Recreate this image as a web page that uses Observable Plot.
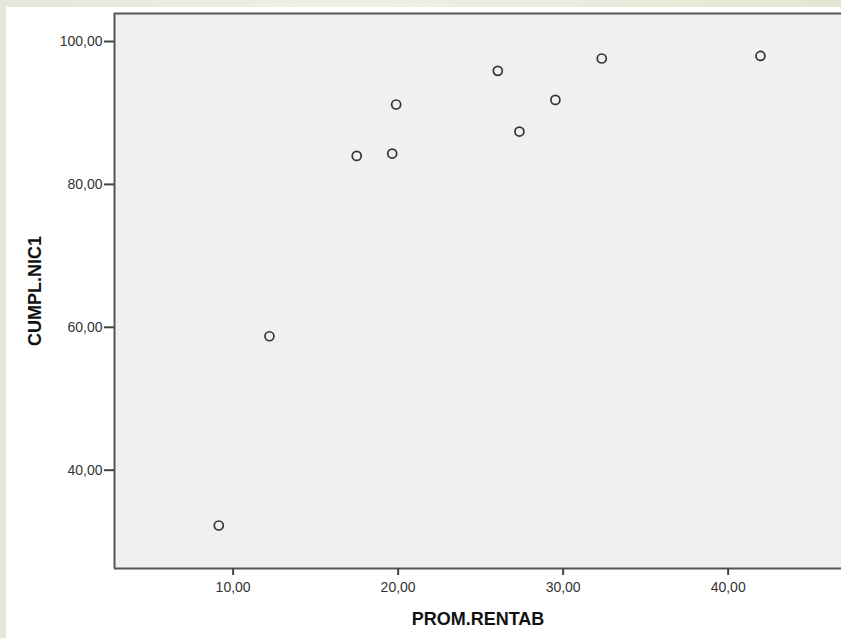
<!DOCTYPE html>
<html>
<head>
<meta charset="utf-8">
<script src="https://cdn.jsdelivr.net/npm/d3@7"></script>
<script src="https://cdn.jsdelivr.net/npm/@observablehq/plot@0.6"></script>
<style>
  html, body { margin: 0; padding: 0; }
  body {
    width: 841px; height: 638px; overflow: hidden; position: relative;
    background: linear-gradient(90deg, #e3e7da 0%, #eef0e2 40%, #e9ecdc 70%, #e4e6d4 100%);
  }
  #panel { position: absolute; left: 6px; top: 7px; width: 835px; height: 631px; background: #ffffff; }
  #chart { position: absolute; left: 0; top: 0; }
</style>
</head>
<body>
<div id="panel"></div>
<div id="chart"></div>
<script>
// Data
const promRentab = [9.13, 12.20, 17.49, 19.64, 19.88, 26.04, 27.35, 29.53, 32.34, 41.96];
const cumplNic1  = [32.26, 58.75, 83.99, 84.32, 91.18, 95.89, 87.40, 91.83, 97.62, 97.98];
const xTicks = [10, 20, 30, 40];
const yTicks = [40, 60, 80, 100];
const xTitle = ["PROM.RENTAB"];
const yTitle = ["CUMPL.NIC1"];

const xDomain = [2.81, 46.87];
const yDomain = [26.24, 103.92];

const data = promRentab.map((x, i) => ({x, y: cumplNic1[i]}));
const fmt = d => d.toFixed(2).replace(".", ",");

const chart = Plot.plot({
  width: 841,
  height: 638,
  marginLeft: 114,
  marginTop: 13,
  marginRight: 0,
  marginBottom: 70,
  style: {
    fontFamily: "'Liberation Sans', Arial, sans-serif",
    fontSize: "14px",
    color: "#333",
    background: "transparent",
    overflow: "visible"
  },
  x: {domain: xDomain},
  y: {domain: yDomain},
  marks: [
    Plot.frame({fill: "#f0f0f0", stroke: "none"}),
    Plot.ruleX([xDomain[0]], {stroke: "#555", strokeWidth: 2}),
    Plot.ruleY(yDomain, {stroke: "#555", strokeWidth: 2}),
    Plot.axisX({ticks: xTicks, tickFormat: fmt, tickSize: 7, tickPadding: 7, label: null, stroke: "#444", strokeWidth: 2, fill: "#333"}),
    Plot.axisY({ticks: yTicks, tickFormat: fmt, tickSize: 10, tickPadding: 2, label: null, stroke: "#444", strokeWidth: 2, fill: "#333"}),
    Plot.dot(data, {x: "x", y: "y", r: 4.5, stroke: "#333", strokeWidth: 1.7, fill: "none"}),
    Plot.text(xTitle, {frameAnchor: "bottom", dy: 51, text: d => d, fontWeight: "bold", fontSize: 18, fill: "#111", textAnchor: "middle", lineAnchor: "middle"}),
    Plot.text(yTitle, {frameAnchor: "left", dx: -79, rotate: -90, text: d => d, fontWeight: "bold", fontSize: 18, fill: "#111", textAnchor: "middle", lineAnchor: "middle"})
  ]
});
document.getElementById("chart").appendChild(chart);
</script>
</body>
</html>
